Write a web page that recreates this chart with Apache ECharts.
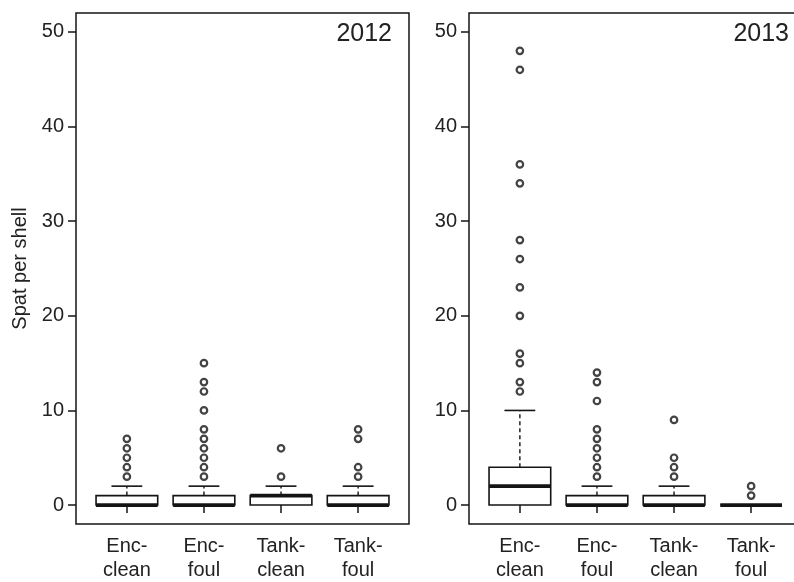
<!DOCTYPE html>
<html>
<head>
<meta charset="utf-8">
<script src="https://cdn.jsdelivr.net/npm/echarts@6/dist/echarts.min.js"></script>
<style>
  html, body { margin: 0; padding: 0; background: #fff; }
  #chart { width: 794px; height: 582px; }
</style>
</head>
<body>
<div id="chart"></div>
<script>
// groups on the x axis (positions 1..4)
const groups = ['Enc-\nclean', 'Enc-\nfoul', 'Tank-\nclean', 'Tank-\nfoul']
const yTicks = [0, 10, 20, 30, 40, 50]

// box stats per group: [lower whisker, Q1, median, Q3, upper whisker]
const box2012 = [
  [0, 0, 0, 1, 2],
  [0, 0, 0, 1, 2],
  [0, 0, 1, 1, 2],
  [0, 0, 0, 1, 2]
]
const box2013 = [
  [0, 0, 2, 4, 10],
  [0, 0, 0, 1, 2],
  [0, 0, 0, 1, 2],
  [0, 0, 0, 0, 0]
]

// outliers per group
const out2012 = [
  [3, 4, 5, 6, 7],
  [3, 4, 5, 6, 7, 8, 10, 12, 13, 15],
  [3, 6],
  [3, 4, 7, 8]
]
const out2013 = [
  [12, 13, 15, 16, 20, 23, 26, 28, 34, 36, 46, 48],
  [3, 4, 5, 6, 7, 8, 11, 13, 14],
  [3, 4, 5, 9],
  [1, 2]
]

const ink = '#141414'
const font = 'Liberation Sans, Arial, sans-serif'

function boxItems(stats) {
  return stats.map((s, i) => [i + 1].concat(s))
}
function outlierPoints(outs) {
  const pts = []
  outs.forEach((vals, i) => vals.forEach(v => pts.push([i + 1, v])))
  return pts
}

function renderBox(params, api) {
  const x = api.value(0)
  const lo = api.coord([x, api.value(1)])
  const q1 = api.coord([x, api.value(2)])
  const md = api.coord([x, api.value(3)])
  const q3 = api.coord([x, api.value(4)])
  const hi = api.coord([x, api.value(5)])
  const half = api.size([0.8, 0])[0] / 2
  const cap = api.size([0.4, 0])[0] / 2
  const cx = lo[0]
  const solid = { stroke: ink, lineWidth: 1.6, fill: null }
  const dash = { stroke: ink, lineWidth: 1.4, lineDash: [4, 3] }
  const kids = []
  if (hi[1] < q3[1]) {
    kids.push({ type: 'line', shape: { x1: cx, y1: q3[1], x2: cx, y2: hi[1] }, style: dash })
    kids.push({ type: 'line', shape: { x1: cx - cap, y1: hi[1], x2: cx + cap, y2: hi[1] }, style: solid })
  }
  if (lo[1] > q1[1]) {
    kids.push({ type: 'line', shape: { x1: cx, y1: q1[1], x2: cx, y2: lo[1] }, style: dash })
    kids.push({ type: 'line', shape: { x1: cx - cap, y1: lo[1], x2: cx + cap, y2: lo[1] }, style: solid })
  }
  kids.push({ type: 'rect', shape: { x: cx - half, y: q3[1], width: half * 2, height: q1[1] - q3[1] }, style: { stroke: ink, lineWidth: 1.6, fill: '#fff' } })
  kids.push({ type: 'line', shape: { x1: cx - half, y1: md[1], x2: cx + half, y2: md[1] }, style: { stroke: ink, lineWidth: 3.8 } })
  return { type: 'group', children: kids }
}

function xAxisFor(idx) {
  return {
    type: 'value', gridIndex: idx, min: 0.34, max: 4.66,
    axisLine: { show: false },
    splitLine: { show: false },
    axisTick: { show: true, customValues: [1, 2, 3, 4], length: 8, lineStyle: { color: ink, width: 1.5 } },
    axisLabel: {
      customValues: [1, 2, 3, 4],
      formatter: v => groups[Math.round(v) - 1],
      margin: 10, fontSize: 20, lineHeight: 24, color: '#222', fontFamily: font
    }
  }
}
function yAxisFor(idx, name) {
  return {
    type: 'value', gridIndex: idx, min: -2, max: 52,
    name: name, nameLocation: 'middle', nameGap: 46,
    nameTextStyle: { fontSize: 20, color: '#222', fontFamily: font },
    axisLine: { show: false },
    splitLine: { show: false },
    axisTick: { show: true, customValues: yTicks, length: 8, lineStyle: { color: ink, width: 1.5 } },
    axisLabel: { customValues: yTicks, margin: 12, fontSize: 20, color: '#222', fontFamily: font }
  }
}

const chart = echarts.init(document.getElementById('chart'), null, { renderer: 'canvas' })
chart.setOption({
  animation: false,
  backgroundColor: '#fff',
  grid: [
    { left: 76, top: 13, width: 333, height: 511, show: true, borderColor: ink, borderWidth: 1.5, outerBoundsMode: 'none' },
    { left: 469, top: 13, width: 333, height: 511, show: true, borderColor: ink, borderWidth: 1.5, outerBoundsMode: 'none' }
  ],
  xAxis: [xAxisFor(0), xAxisFor(1)],
  yAxis: [yAxisFor(0, 'Spat per shell'), yAxisFor(1, '')],
  graphic: [
    { type: 'text', x: 392, y: 47, style: { text: '2012', fontSize: 25, fontFamily: font, fill: '#222', textAlign: 'right', textVerticalAlign: 'bottom' } },
    { type: 'text', x: 789, y: 47, style: { text: '2013', fontSize: 25, fontFamily: font, fill: '#222', textAlign: 'right', textVerticalAlign: 'bottom' } }
  ],
  series: [
    { type: 'custom', xAxisIndex: 0, yAxisIndex: 0, data: boxItems(box2012), renderItem: renderBox },
    { type: 'custom', xAxisIndex: 1, yAxisIndex: 1, data: boxItems(box2013), renderItem: renderBox },
    {
      type: 'scatter', xAxisIndex: 0, yAxisIndex: 0, data: outlierPoints(out2012),
      symbol: 'circle', symbolSize: 6.5,
      itemStyle: { color: 'rgba(0,0,0,0)', borderColor: ink, borderWidth: 2.2 }
    },
    {
      type: 'scatter', xAxisIndex: 1, yAxisIndex: 1, data: outlierPoints(out2013),
      symbol: 'circle', symbolSize: 6.5,
      itemStyle: { color: 'rgba(0,0,0,0)', borderColor: ink, borderWidth: 2.2 }
    }
  ]
})
</script>
</body>
</html>
